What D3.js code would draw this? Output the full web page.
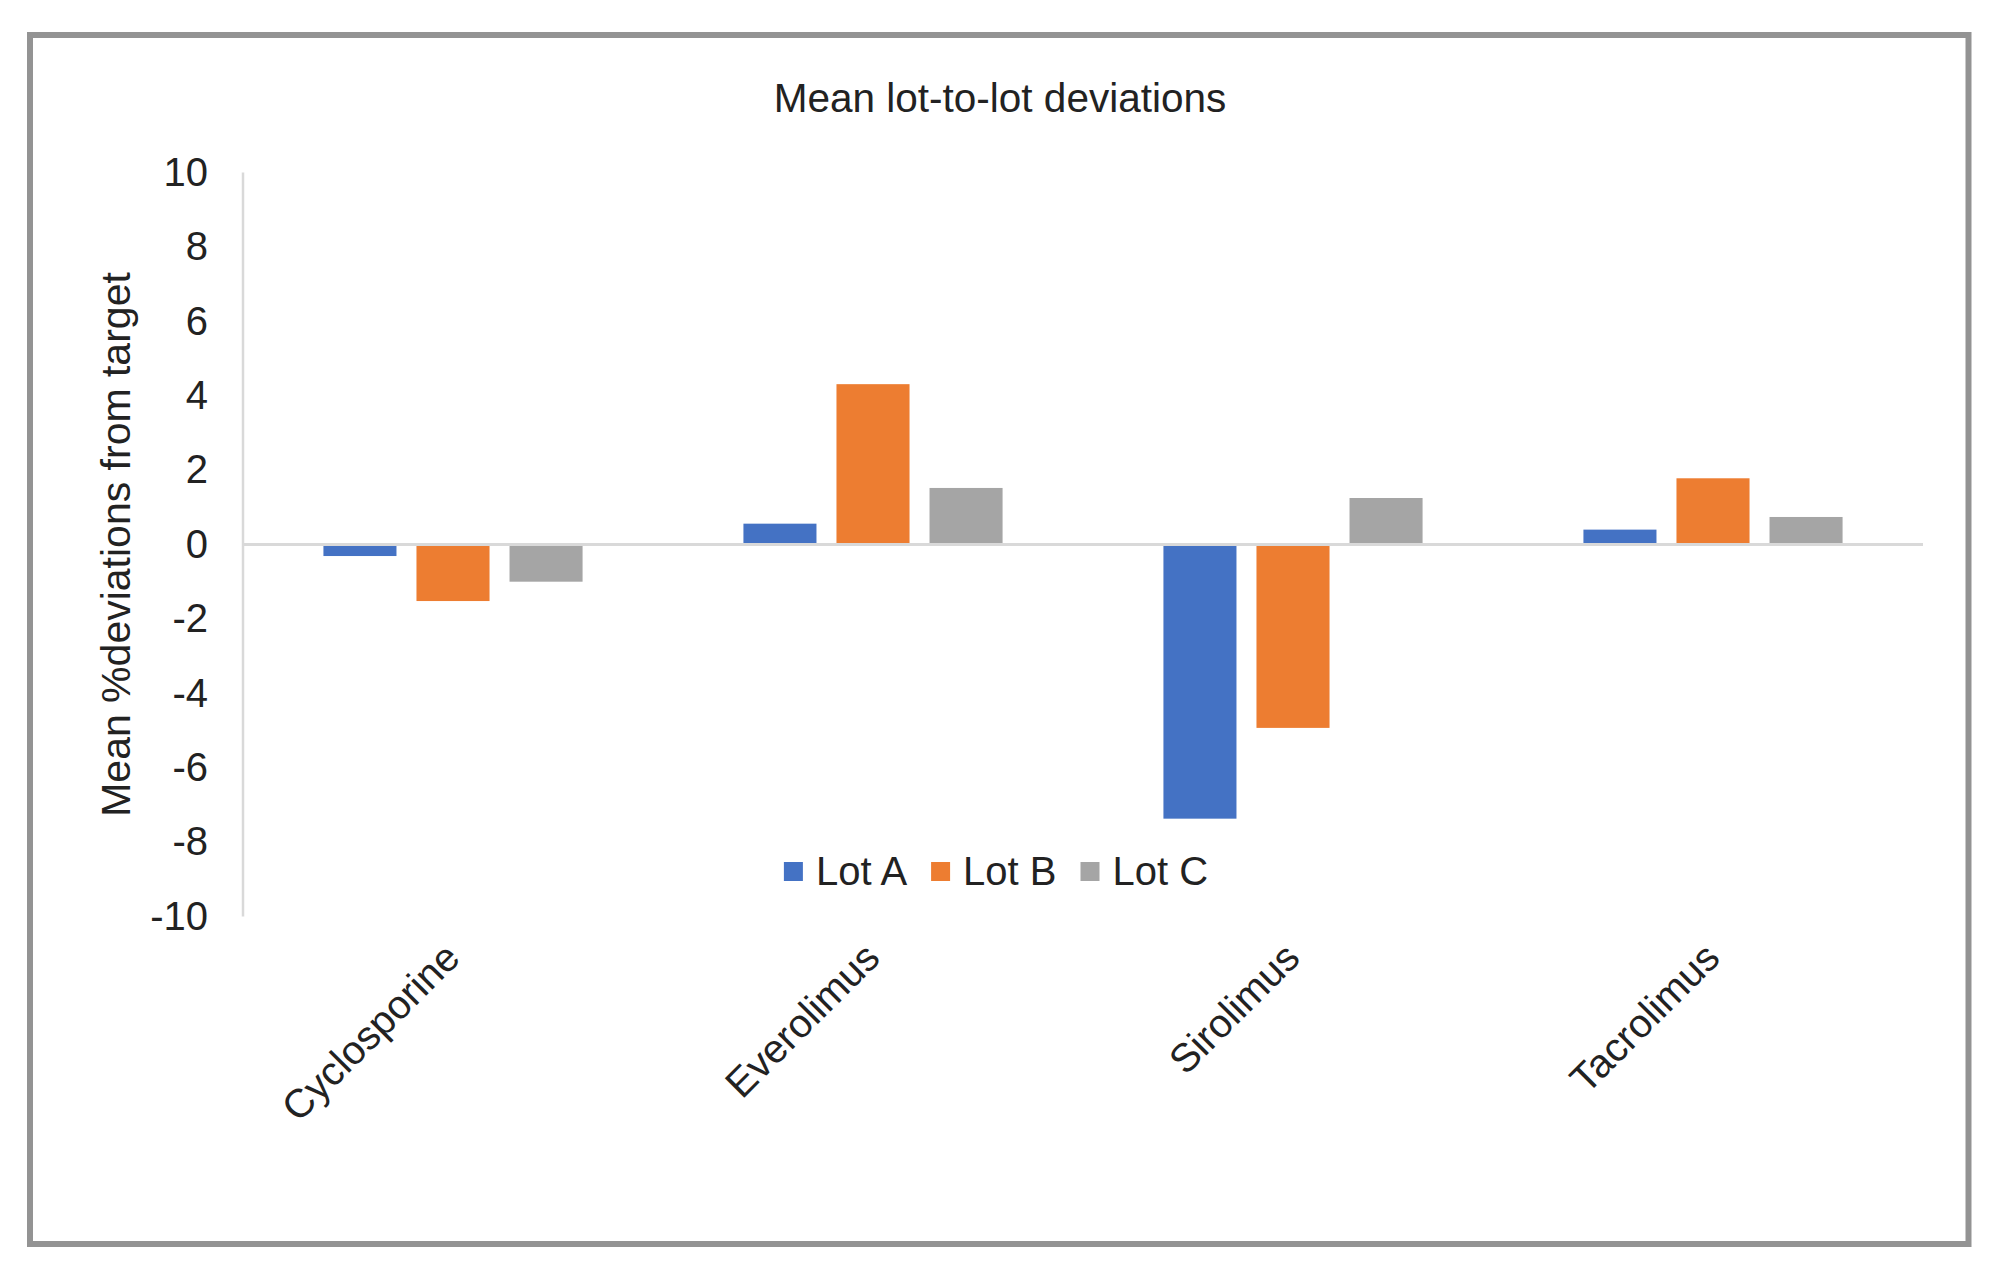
<!DOCTYPE html>
<html>
<head>
<meta charset="utf-8">
<script src="https://cdn.jsdelivr.net/npm/d3@7"></script>
<style>
  html, body { margin: 0; padding: 0; background: #ffffff; }
  svg { display: block; }
  text { font-family: "Liberation Sans", Arial, sans-serif; fill: #222222; }
</style>
</head>
<body>
<svg id="chart" width="2000" height="1279"></svg>
<script>
// ---- data ----
const categories = ["Cyclosporine", "Everolimus", "Sirolimus", "Tacrolimus"];
const seriesNames = ["Lot A", "Lot B", "Lot C"];
const lotA = [-0.31, 0.56, -7.37, 0.40];
const lotB = [-1.52, 4.31, -4.93, 1.78];
const lotC = [-1.00, 1.52, 1.25, 0.74];
const yTicks = [10, 8, 6, 4, 2, 0, -2, -4, -6, -8, -10];
const chartTitle = "Mean lot-to-lot deviations";
const yAxisTitle = "Mean %deviations from target";
const colors = ["#4472C4", "#ED7D31", "#A5A5A5"];

const seriesValues = [lotA, lotB, lotC];

// ---- layout ----
const W = 2000, H = 1279;
const plot = { left: 243, right: 1923, top: 172.5, bottom: 916.5 };

const svg = d3.select("#chart");
svg.append("rect").attr("x", 0).attr("y", 0).attr("width", W).attr("height", H).attr("fill", "#ffffff");

// frame
svg.append("rect")
  .attr("x", 30).attr("y", 35)
  .attr("width", 1968.5 - 30).attr("height", 1244 - 35)
  .attr("fill", "none").attr("stroke", "#939393").attr("stroke-width", 6);

// scales
const x = d3.scaleBand().domain(categories).range([plot.left, plot.right]).paddingInner(0).paddingOuter(0);
const groupW = x.bandwidth() * 0.617;
const xInner = d3.scaleBand().domain(seriesNames).range([-groupW / 2, groupW / 2]).paddingInner(0.215).paddingOuter(0);
const y = d3.scaleLinear().domain([-10, 10]).range([plot.bottom, plot.top]);

// title
svg.append("text")
  .attr("x", 1000).attr("y", 112)
  .attr("text-anchor", "middle")
  .style("font-size", "40.5px")
  .text(chartTitle);

// y axis title
svg.append("text")
  .attr("transform", `translate(130, ${(plot.top + plot.bottom) / 2}) rotate(-90)`)
  .attr("text-anchor", "middle")
  .style("font-size", "41px")
  .text(yAxisTitle);

// y axis (labels only) via d3.axisLeft
const yAxis = d3.axisLeft(y).tickValues(yTicks).tickSize(0).tickPadding(35).tickFormat(d3.format("d"));
const gy = svg.append("g").attr("transform", `translate(${plot.left},0)`).call(yAxis);
gy.select(".domain").remove();
gy.selectAll("text")
  .style("font-size", "40px")
  .style("font-family", "'Liberation Sans', Arial, sans-serif")
  .attr("fill", "#222222")
  .text(d => d < 0 ? "-" + Math.abs(d) : d);

// y axis line
svg.append("line")
  .attr("x1", plot.left).attr("x2", plot.left)
  .attr("y1", y(10)).attr("y2", y(-10))
  .attr("stroke", "#d9d9d9").attr("stroke-width", 2.5);

// bars
const groups = svg.append("g").selectAll("g")
  .data(categories)
  .join("g")
  .attr("transform", c => `translate(${x(c) + x.bandwidth() / 2},0)`);

groups.selectAll("rect")
  .data((c, ci) => seriesNames.map((s, si) => ({ s, si, v: seriesValues[si][ci] })))
  .join("rect")
  .attr("x", d => xInner(d.s))
  .attr("width", xInner.bandwidth())
  .attr("y", d => y(Math.max(0, d.v)))
  .attr("height", d => Math.abs(y(d.v) - y(0)))
  .attr("fill", d => colors[d.si]);

// zero line
svg.append("line")
  .attr("x1", plot.left).attr("x2", plot.right)
  .attr("y1", y(0)).attr("y2", y(0))
  .attr("stroke", "#d9d9d9").attr("stroke-width", 3);

// category labels
svg.append("g").selectAll("text")
  .data(categories)
  .join("text")
  .attr("transform", c => `translate(${x(c) + x.bandwidth() / 2 + 9}, 960) rotate(-45)`)
  .attr("text-anchor", "end")
  .style("font-size", "40px")
  .text(c => c);

// legend
const legend = svg.append("g");
const fs = 40, sq = 19, gapSqText = 13, gapItems = 24;
const tmp = svg.append("text").style("font-size", fs + "px");
const widths = seriesNames.map(s => { tmp.text(s); return tmp.node().getComputedTextLength(); });
tmp.remove();
const itemWidths = widths.map(w => sq + gapSqText + w);
const totalW = d3.sum(itemWidths) + gapItems * (seriesNames.length - 1);
let lx = 996 - totalW / 2;
seriesNames.forEach((s, i) => {
  legend.append("rect")
    .attr("x", lx).attr("y", 862)
    .attr("width", sq).attr("height", sq)
    .attr("fill", colors[i]);
  legend.append("text")
    .attr("x", lx + sq + gapSqText).attr("y", 885)
    .style("font-size", fs + "px")
    .text(s);
  lx += itemWidths[i] + gapItems;
});
</script>
</body>
</html>
